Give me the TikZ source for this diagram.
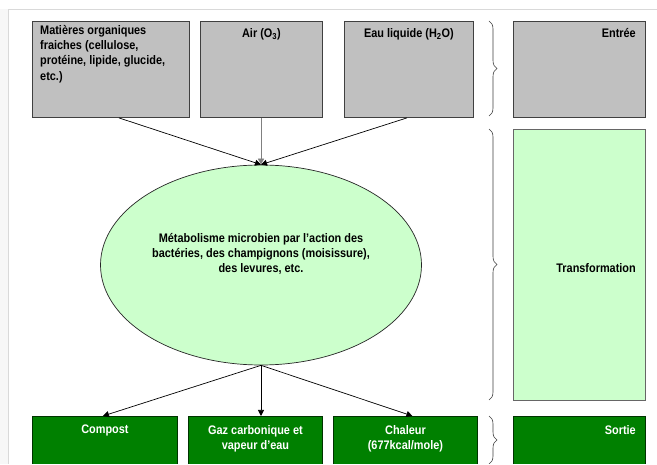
\documentclass[tikz,border=0pt]{standalone}
\usepackage{fontspec}
\setmainfont[FakeStretch=0.88]{Liberation Sans}
\usetikzlibrary{shapes.geometric,decorations.pathreplacing,arrows.meta}
\definecolor{boxgray}{HTML}{C0C0C0}
\definecolor{boxgreen}{HTML}{008000}
\definecolor{lightgreen}{HTML}{CCFFCC}
\begin{document}
\begin{tikzpicture}[x=1pt,y=1pt,
  font=\bfseries\fontsize{12.4}{15.3}\selectfont,
  graybox/.style={draw=black!75, fill=boxgray, line width=0.9pt, anchor=north west, inner sep=0pt},
  greenbox/.style={draw=black!60!boxgreen, fill=boxgreen, line width=0.9pt, anchor=north west, inner sep=0pt},
  lgbox/.style={draw=black!60, fill=lightgreen, line width=0.8pt, anchor=north west, inner sep=0pt},
  txt/.style={inner sep=0pt, align=center},
  wtxt/.style={inner sep=0pt, align=center, text=white},
  arr/.style={-{Triangle[length=6pt,width=6pt]}, line width=0.7pt},
  bracestyle/.style={decorate, decoration={brace, amplitude=8pt}, draw=black!75, line width=0.6pt}
]
\clip (0,0) rectangle (657,464);
\useasboundingbox (0,0) rectangle (657,464);
\fill[white] (0,0) rectangle (657,464);
\fill[black!3] (0,0) rectangle (8,455);
\draw[black!15, line width=1.5pt] (8.5,-2) -- (8.5,454.5) -- (660,454.5);

% top row
\node[graybox, minimum width=157pt, minimum height=96pt] (b1) at (32,443) {};
\node[graybox, minimum width=122pt, minimum height=96pt] (b2) at (200,443) {};
\node[graybox, minimum width=129pt, minimum height=96pt] (b3) at (344,443) {};
\node[graybox, minimum width=132pt, minimum height=96pt] (b4) at (513,443) {};

\node[txt, anchor=north west, align=left] (t1) at (40,439) {Matières organiques\\fraiches (cellulose,\\protéine, lipide, glucide,\\etc.)};
\node[txt, anchor=north] (t2) at ([yshift=-7pt]b2.north) {Air (O\textsubscript{3})};
\node[txt, anchor=north] (t3) at ([yshift=-7pt]b3.north) {Eau liquide (H\textsubscript{2}O)};
\node[txt, anchor=north east] (t4) at (636,436) {Entrée};

% transformation
\node[lgbox, minimum width=132pt, minimum height=271pt] (b5) at (513,335) {};
\node[txt, anchor=east] (t5) at (636,196) {Transformation};

\node[ellipse, draw=black!85, fill=lightgreen, line width=0.7pt, minimum width=321pt, minimum height=200pt, inner sep=0pt] (el) at (261,199) {};
\node[txt] (tel) at (261,210) {Métabolisme microbien par l’action des\\bactéries, des champignons (moisissure),\\des levures, etc.};

% bottom row
\node[greenbox, minimum width=145pt, minimum height=60pt] (c1) at (32,48) {};
\node[greenbox, minimum width=134pt, minimum height=60pt] (c2) at (188,48) {};
\node[greenbox, minimum width=144pt, minimum height=60pt] (c3) at (333,48) {};
\node[greenbox, minimum width=132pt, minimum height=60pt] (c4) at (513,48) {};

\node[wtxt, anchor=north] (tc1) at ([yshift=-9pt]c1.north) {Compost};
\node[wtxt, anchor=north] (tc2) at ([yshift=-9pt]c2.north) {Gaz carbonique et\\vapeur d’eau};
\node[wtxt, anchor=north] (tc3) at ([yshift=-9pt]c3.north) {Chaleur\\(677kcal/mole)};
\node[wtxt, anchor=north east] (tc4) at (636,39) {Sortie};

% arrows
\draw[arr] ([xshift=8pt]b1.south) -- (el.north);
\draw[arr, draw=black!50] (el.north |- b2.south) -- (el.north);
\draw[arr] ([xshift=-2pt]b3.south) -- (el.north);
\draw[arr] (el.south) -- ([xshift=-2pt]c1.north);
\draw[arr] (el.south) -- (el.south |- c2.north);
\draw[arr] (el.south) -- ([xshift=7pt]c3.north);

% braces
\draw[bracestyle] (489,443) -- (489,348);
\draw[bracestyle] (489,335) -- (489,64);
\draw[bracestyle] (489,48) -- (489,0);
\end{tikzpicture}
\end{document}
